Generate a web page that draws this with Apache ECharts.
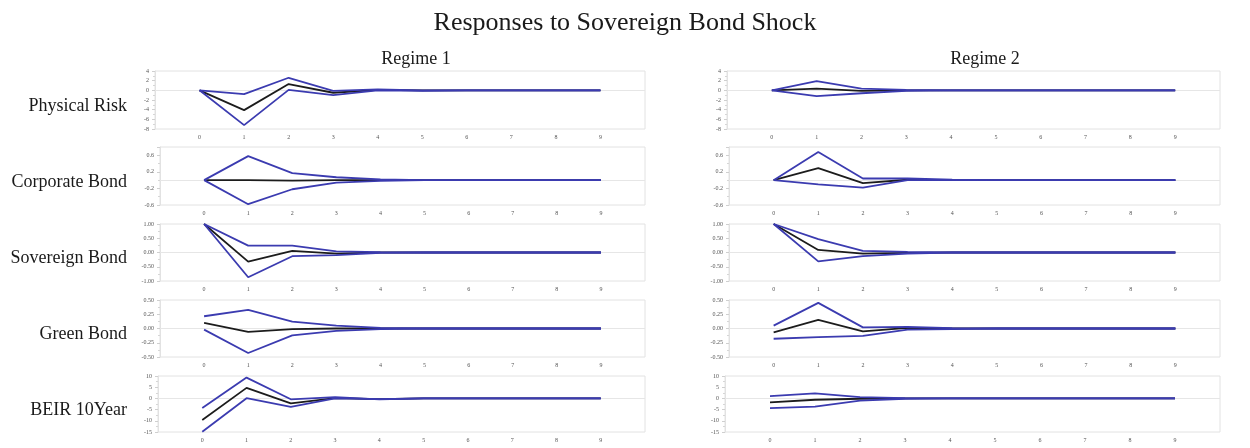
<!DOCTYPE html>
<html>
<head>
<meta charset="utf-8">
<title>Responses to Sovereign Bond Shock</title>
<script src="https://cdn.jsdelivr.net/npm/echarts@6/dist/echarts.min.js"></script>
<style>
  html, body { margin: 0; padding: 0; background: #ffffff; }
  #chart { width: 1250px; height: 448px; }
</style>
</head>
<body>
<div id="chart"></div>
<script>
// Impulse horizons
const horizons = [0, 1, 2, 3, 4, 5, 6, 7, 8, 9];

// Row labels (responding variables) and column labels (regimes)
const variables = ['Physical Risk', 'Corporate Bond', 'Sovereign Bond', 'Green Bond', 'BEIR 10Year'];
const regimes = ['Regime 1', 'Regime 2'];

// Physical Risk
const physR1Hi  = [0, -0.8, 2.6, -0.1, 0.2, 0, 0, 0, 0, 0];
const physR1Mid = [0, -4.1, 1.3, -0.5, 0.1, 0, 0, 0, 0, 0];
const physR1Lo  = [0, -7.2, 0.1, -1.0, 0.0, -0.1, 0, 0, 0, 0];
const physR2Hi  = [0, 1.9, 0.35, 0.1, 0, 0, 0, 0, 0, 0];
const physR2Mid = [0, 0.35, -0.1, 0, 0, 0, 0, 0, 0, 0];
const physR2Lo  = [0, -1.2, -0.6, -0.1, 0, 0, 0, 0, 0, 0];

// Corporate Bond
const corpR1Hi  = [0, 0.58, 0.17, 0.07, 0.02, 0, 0, 0, 0, 0];
const corpR1Mid = [0, 0, -0.01, 0, 0, 0, 0, 0, 0, 0];
const corpR1Lo  = [0, -0.58, -0.22, -0.06, -0.02, 0, 0, 0, 0, 0];
const corpR2Hi  = [0, 0.68, 0.04, 0.04, 0.01, 0, 0, 0, 0, 0];
const corpR2Mid = [0, 0.29, -0.07, 0.01, 0, 0, 0, 0, 0, 0];
const corpR2Lo  = [0, -0.1, -0.18, 0, 0, 0, 0, 0, 0, 0];

// Sovereign Bond
const sovR1Hi  = [1, 0.24, 0.24, 0.04, 0.01, 0, 0, 0, 0, 0];
const sovR1Mid = [1, -0.32, 0.06, -0.04, 0, 0, 0, 0, 0, 0];
const sovR1Lo  = [1, -0.87, -0.13, -0.09, -0.01, 0, 0, 0, 0, 0];
const sovR2Hi  = [1, 0.47, 0.06, 0.02, 0, 0, 0, 0, 0, 0];
const sovR2Mid = [1, 0.09, -0.04, -0.01, 0, 0, 0, 0, 0, 0];
const sovR2Lo  = [1, -0.31, -0.13, -0.04, 0, 0, 0, 0, 0, 0];

// Green Bond
const greenR1Hi  = [0.215, 0.325, 0.12, 0.05, 0.01, 0, 0, 0, 0, 0];
const greenR1Mid = [0.10, -0.06, -0.01, 0, 0, 0, 0, 0, 0, 0];
const greenR1Lo  = [-0.02, -0.43, -0.12, -0.04, -0.01, 0, 0, 0, 0, 0];
const greenR2Hi  = [0.05, 0.45, 0.02, 0.03, 0.005, 0, 0, 0, 0, 0];
const greenR2Mid = [-0.07, 0.15, -0.05, 0.01, 0, 0, 0, 0, 0, 0];
const greenR2Lo  = [-0.18, -0.15, -0.13, -0.02, -0.01, 0, 0, 0, 0, 0];

// BEIR 10Year
const beirR1Hi  = [-4.3, 9.3, -0.4, 0.6, -0.4, 0, 0, 0, 0, 0];
const beirR1Mid = [-9.6, 4.7, -2.2, 0.15, -0.3, 0, 0, 0, 0, 0];
const beirR1Lo  = [-14.9, 0.1, -3.8, 0, -0.3, 0, 0, 0, 0, 0];
const beirR2Hi  = [1.0, 2.2, 0.6, 0.1, 0, 0, 0, 0, 0, 0];
const beirR2Mid = [-1.8, -0.6, -0.15, 0, 0, 0, 0, 0, 0, 0];
const beirR2Lo  = [-4.3, -3.7, -1.0, -0.15, 0, 0, 0, 0, 0, 0];

// Y-axis ticks per variable: [min, max, step, decimals, label the max]
const physTicks  = [-8, 4, 2, 0, true];
const corpTicks  = [-0.6, 0.8, 0.4, 1, false];
const sovTicks   = [-1, 1, 0.5, 2, true];
const greenTicks = [-0.5, 0.5, 0.25, 2, true];
const beirTicks  = [-15, 10, 5, 0, true];

const panels = [
  [[physR1Lo, physR1Mid, physR1Hi], [physR2Lo, physR2Mid, physR2Hi], physTicks],
  [[corpR1Lo, corpR1Mid, corpR1Hi], [corpR2Lo, corpR2Mid, corpR2Hi], corpTicks],
  [[sovR1Lo, sovR1Mid, sovR1Hi], [sovR2Lo, sovR2Mid, sovR2Hi], sovTicks],
  [[greenR1Lo, greenR1Mid, greenR1Hi], [greenR2Lo, greenR2Mid, greenR2Hi], greenTicks],
  [[beirR1Lo, beirR1Mid, beirR1Hi], [beirR2Lo, beirR2Mid, beirR2Hi], beirTicks]
];

// Layout of the plot boxes
const rowTops    = [71, 147, 224, 300, 376];
const rowBottoms = [129, 205, 281, 357, 432];
const colLefts   = [[155, 727], [160, 729], [160, 729], [160, 729], [158, 725]];
const colRights  = [645, 1220];

const SERIF = '"Liberation Serif", "DejaVu Serif", serif';
const BLUE = '#3b3bb0';
const BLACK = '#1c1c1c';
const FRAME = '#e2e2e2';

const grids = [], xAxes = [], yAxes = [], series = [];
const graphics = [];

panels.forEach((p, r) => {
  const ticks = p[2];
  [0, 1].forEach(c => {
    const idx = grids.length;
    const left = colLefts[r][c];
    grids.push({
      left: left,
      top: rowTops[r],
      width: colRights[c] - left,
      height: rowBottoms[r] - rowTops[r],
      show: true,
      borderColor: FRAME,
      borderWidth: 1,
      backgroundColor: 'transparent'
    });
    xAxes.push({
      gridIndex: idx,
      type: 'value',
      min: -1,
      max: 10,
      interval: 1,
      axisLine: { show: false, onZero: false },
      axisTick: { show: false },
      splitLine: { show: false },
      axisLabel: {
        margin: 5,
        fontSize: 6,
        color: '#555',
        fontFamily: SERIF,
        formatter: v => (v >= 0 && v <= 9 ? String(v) : '')
      }
    });
    yAxes.push({
      gridIndex: idx,
      type: 'value',
      min: ticks[0],
      max: ticks[1],
      interval: ticks[2],
      axisLine: { show: true, onZero: false, lineStyle: { color: FRAME } },
      axisTick: { show: true, length: 3, lineStyle: { color: '#cfcfcf' } },
      minorTick: { show: true, splitNumber: 2, length: 2, lineStyle: { color: '#d6d6d6' } },
      splitLine: { show: false },
      axisLabel: {
        margin: 6,
        fontSize: 6,
        color: '#555',
        fontFamily: SERIF,
        showMaxLabel: ticks[4],
        formatter: v => Number(v).toFixed(ticks[3])
      }
    });
    const [lo, mid, hi] = p[c];
    const toPts = arr => horizons.map((h, i) => [h, arr[i]]);
    // central response, drawn first so the bands sit on top where they merge
    series.push({
      type: 'line',
      xAxisIndex: idx,
      yAxisIndex: idx,
      data: toPts(mid),
      showSymbol: false,
      symbol: 'none',
      lineStyle: { color: BLACK, width: 1.8 },
      silent: true,
      z: 3,
      markLine: {
        silent: true,
        symbol: 'none',
        label: { show: false },
        lineStyle: { color: '#e6e6e6', width: 1, type: 'solid' },
        data: [{ yAxis: 0 }],
        z: 1
      }
    });
    [lo, hi].forEach(band => {
      series.push({
        type: 'line',
        xAxisIndex: idx,
        yAxisIndex: idx,
        data: toPts(band),
        showSymbol: false,
        symbol: 'none',
        lineStyle: { color: BLUE, width: 1.8 },
        silent: true,
        z: 4
      });
    });
  });
  graphics.push({
    type: 'text',
    right: 1250 - 127,
    top: (rowTops[r] + rowBottoms[r]) / 2 - 3,
    style: {
      text: variables[r],
      font: '18px ' + SERIF,
      fill: '#1a1a1a',
      textAlign: 'right'
    }
  });
});

const option = {
  backgroundColor: '#ffffff',
  animation: false,
  title: [
    {
      text: 'Responses to Sovereign Bond Shock',
      left: 'center',
      top: 5,
      textStyle: { fontFamily: SERIF, fontSize: 26, fontWeight: 'normal', color: '#1a1a1a' }
    },
    {
      text: regimes[0],
      left: 411,
      top: 45,
      textAlign: 'center',
      textStyle: { fontFamily: SERIF, fontSize: 18, fontWeight: 'normal', color: '#1a1a1a' }
    },
    {
      text: regimes[1],
      left: 980,
      top: 45,
      textAlign: 'center',
      textStyle: { fontFamily: SERIF, fontSize: 18, fontWeight: 'normal', color: '#1a1a1a' }
    }
  ],
  grid: grids,
  xAxis: xAxes,
  yAxis: yAxes,
  series: series,
  graphic: graphics
};

const chart = echarts.init(document.getElementById('chart'), null, { renderer: 'canvas' });
chart.setOption(option);
</script>
</body>
</html>
